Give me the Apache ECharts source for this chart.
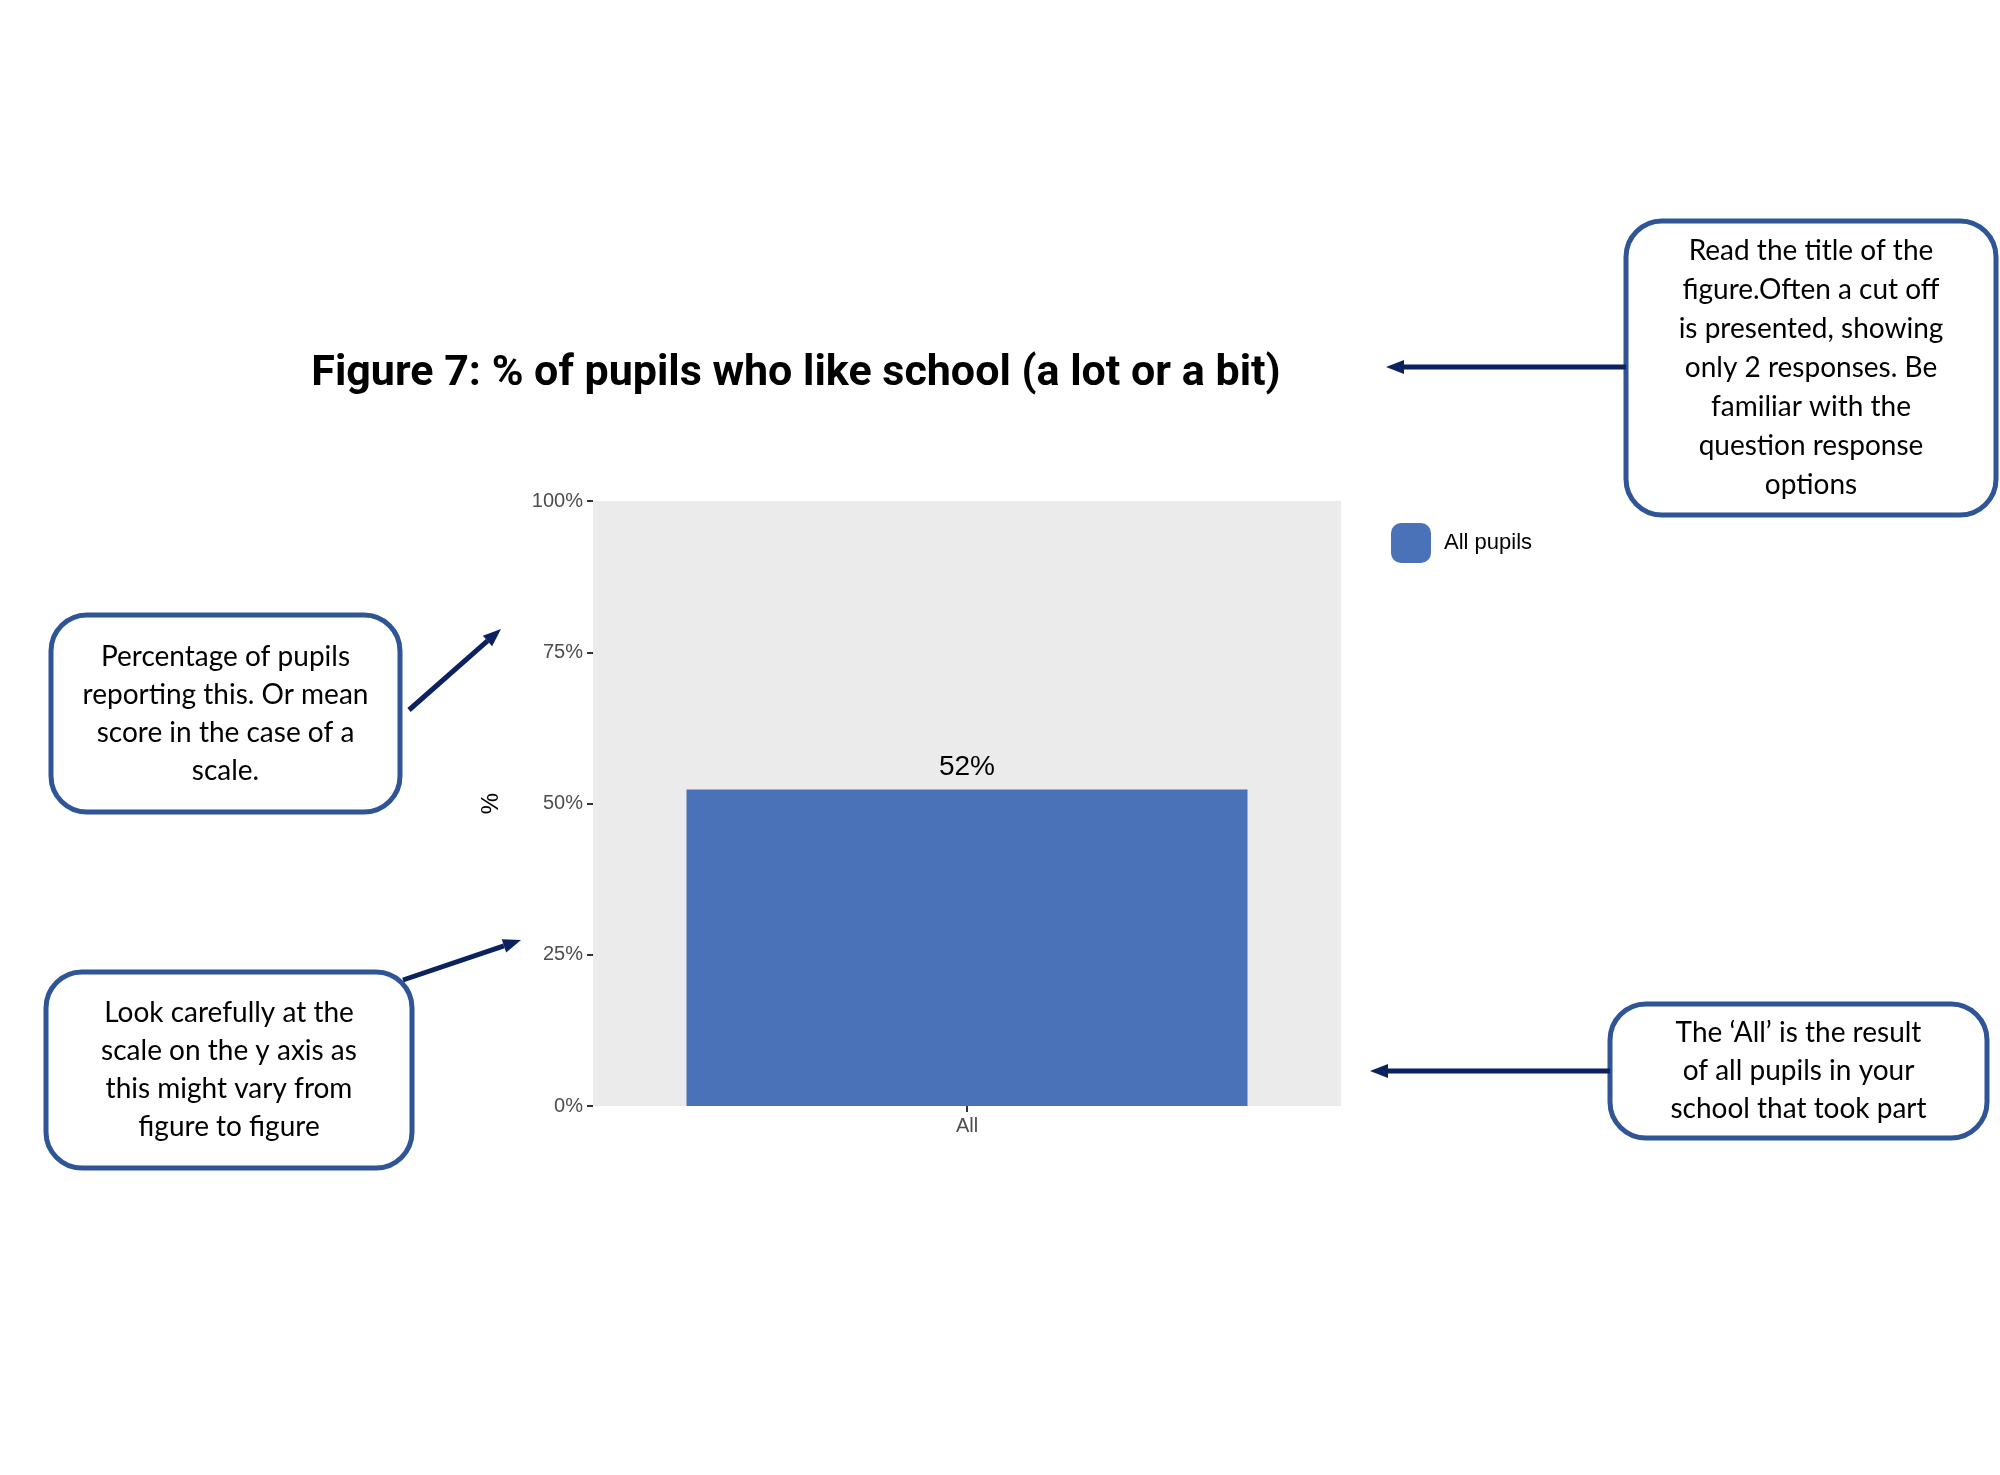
<!DOCTYPE html>
<html><head><meta charset="utf-8">
<script src="https://cdn.jsdelivr.net/npm/echarts@6/dist/echarts.min.js"></script>
<style>html,body{margin:0;padding:0;background:#fff}#c{width:2000px;height:1475px}</style>
</head><body><div id="c"></div>
<script>
const categories = ['All']
const seriesName = 'All pupils'
const values = [52.3]
const yTicks = [0, 25, 50, 75, 100]

const navy = '#0b2160', boxBlue = '#2f5597'
const calloutFont = '28px Lato, "Open Sans", sans-serif'

function box(x, y, w, h, lines, lh) {
  return [
    { type: 'rect', shape: { x: x, y: y, width: w, height: h, r: 36 }, style: { fill: '#fff', stroke: boxBlue, lineWidth: 5 } },
    { type: 'text', x: x + w / 2, y: y + h / 2, style: { text: lines.join('\n'), font: calloutFont, fill: '#000', align: 'center', verticalAlign: 'middle', lineHeight: lh } }
  ]
}
function arrow(x1, y1, x2, y2) {
  const a = Math.atan2(y2 - y1, x2 - x1), L = 18, W = 7
  const bx = x2 - L * Math.cos(a), by = y2 - L * Math.sin(a)
  return [
    { type: 'line', shape: { x1: x1, y1: y1, x2: bx, y2: by }, style: { stroke: navy, lineWidth: 5 } },
    { type: 'polygon', shape: { points: [[x2, y2], [bx - W * Math.sin(a), by + W * Math.cos(a)], [bx + W * Math.sin(a), by - W * Math.cos(a)]] }, style: { fill: navy } }
  ]
}

const chart = echarts.init(document.getElementById('c'))
chart.setOption({
  animation: false,
  title: { text: 'Figure 7: % of pupils who like school (a lot or a bit)', left: 791, top: 348, textAlign: 'center',
    textStyle: { fontFamily: 'Roboto', fontWeight: 'bold', fontSize: 43, color: '#000' } },
  grid: { left: 593, top: 501, width: 748, height: 605, backgroundColor: '#ebebeb', show: true, borderWidth: 0 },
  legend: { data: [seriesName], left: 1386, top: 518, itemWidth: 40, itemHeight: 40, itemGap: 10,
    textStyle: { fontFamily: 'Liberation Sans', fontSize: 22, color: '#000', padding: [0, 0, 0, 8] } },
  xAxis: { type: 'category', data: categories,
    axisLine: { show: false }, axisTick: { show: true, alignWithLabel: true, length: 6, lineStyle: { color: '#333', width: 2 } },
    axisLabel: { fontFamily: 'Liberation Sans', fontSize: 20, color: '#4d4d4d', margin: 10 } },
  yAxis: { type: 'value', min: 0, max: 100, interval: 25, name: '%', nameLocation: 'middle', nameGap: 90, nameRotate: 90,
    nameTextStyle: { fontFamily: 'Liberation Sans', fontSize: 24, color: '#000' },
    splitLine: { show: false }, axisLine: { show: false },
    axisTick: { show: true, length: 6, lineStyle: { color: '#333', width: 2 } },
    axisLabel: { fontFamily: 'Liberation Sans', fontSize: 20, color: '#4d4d4d', margin: 10, formatter: v => yTicks.includes(v) ? v + '%' : '' } },
  series: [{ name: seriesName, type: 'bar', data: values, barWidth: '75%', itemStyle: { color: '#4a72b8' },
    label: { show: true, position: 'top', distance: 8, fontFamily: 'Liberation Sans', fontSize: 28, color: '#000', formatter: p => Math.round(p.value) + '%' } }],
  graphic: [].concat(
    box(1626, 221, 370, 294, ['Read the title of the', 'figure.Often a cut off', 'is presented, showing', 'only 2 responses. Be', 'familiar with the', 'question response', 'options'], 39),
    box(51, 615, 349, 197, ['Percentage of pupils', 'reporting this. Or mean', 'score in the case of a', 'scale.'], 38),
    box(46, 972, 366, 196, ['Look carefully at the', 'scale on the y axis as', 'this might vary from', 'figure to figure'], 38),
    box(1610, 1004, 377, 134, ['The \u2018All\u2019 is the result', 'of all pupils in your', 'school that took part'], 38),
    arrow(1626, 367, 1386, 367),
    arrow(409, 710, 501, 629),
    arrow(403, 980, 521, 940),
    arrow(1610, 1071, 1370, 1071)
  )
})
</script></body></html>
